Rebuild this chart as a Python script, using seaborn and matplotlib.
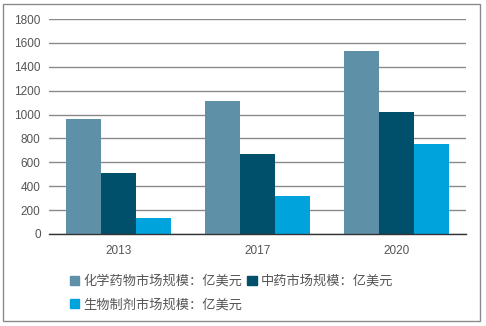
import matplotlib
matplotlib.use("Agg")
import matplotlib.pyplot as plt
import matplotlib.patches as mpatches
import seaborn as sns
import pandas as pd

years = ["2013", "2017", "2020"]
series_names = ["化学药物市场规模：亿美元", "中药市场规模：亿美元", "生物制剂市场规模：亿美元"]
chem = [963, 1113, 1532]
tcm = [511, 670, 1021]
bio = [134, 318, 753]
colors = ["#5E91A8", "#00506B", "#00A3DC"]

rows = []
for name, vals in zip(series_names, [chem, tcm, bio]):
    for y, v in zip(years, vals):
        rows.append({"year": y, "series": name, "value": v})
df = pd.DataFrame(rows)

sns.set_theme(style="white")
plt.rcParams['font.family'] = ['Liberation Sans', 'Noto Sans CJK SC', 'DejaVu Sans']

fig = plt.figure(figsize=(4.86, 3.26), dpi=100)
ax = fig.add_axes([49/486, 1-234/326, (466-49)/486, (234-19)/326])

sns.barplot(data=df, x="year", y="value", hue="series", palette=colors,
            width=0.75, ax=ax, saturation=1, legend=False, linewidth=0)

ax.set_ylim(0, 1800)
ax.set_xlim(-0.5, 2.5)
ax.set_yticks(range(0, 1801, 200))
ax.set_xlabel("")
ax.set_ylabel("")
ax.yaxis.grid(True, color="#8a8a8a", linewidth=1)
ax.set_axisbelow(True)
for s in ["top", "right", "left"]:
    ax.spines[s].set_visible(False)
ax.spines["bottom"].set_color("#333333")
ax.spines["bottom"].set_linewidth(1)
ax.tick_params(axis="both", length=0, labelsize=8.5, colors="#555555", pad=6)
ax.tick_params(axis="x", pad=8)

handles = [mpatches.Patch(color=c) for c in colors]
order = [0, 2, 1]
leg = fig.legend([handles[i] for i in order], [series_names[i] for i in order],
                 loc="upper left", bbox_to_anchor=(58/486, 1-263/326), ncol=2,
                 frameon=False, handlelength=0.7, handleheight=0.7, handletextpad=0.3,
                 columnspacing=0.4, labelspacing=0.8,
                 prop={"family": ["Noto Sans CJK SC", "DejaVu Sans"], "size": 9.5})
for t in leg.get_texts():
    t.set_color("#555555")

border = mpatches.Rectangle((3/486, 1-321/326), (480-3)/486, (321-4)/326,
                            transform=fig.transFigure, fill=False,
                            edgecolor="#8a8a8a", linewidth=1)
fig.patches.append(border)

fig.savefig("out.png", dpi=100)
